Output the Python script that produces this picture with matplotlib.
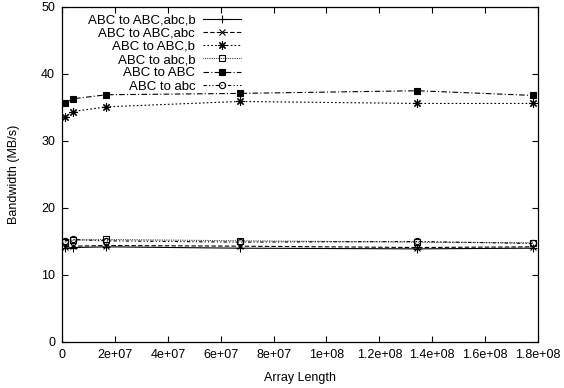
import matplotlib
matplotlib.use("Agg")
import matplotlib.pyplot as plt

plt.rcParams["font.family"] = ["Liberation Sans", "DejaVu Sans"]

# array lengths (x) shared by all series
array_length = [1048576, 4194304, 16777216, 67108864, 134217728, 178000000]

labels = [
    "ABC to ABC,abc,b",
    "ABC to ABC,abc",
    "ABC to ABC,b",
    "ABC to abc,b",
    "ABC to ABC",
    "ABC to abc",
]

# bandwidth in MB/s, one list per series (same order as labels)
abc_all = [14.0, 14.1, 14.2, 14.0, 13.9, 14.0]
abc_abc = [14.2, 14.3, 14.4, 14.3, 14.1, 14.2]
abc_b = [33.6, 34.4, 35.1, 35.9, 35.6, 35.6]
lower_b = [14.9, 15.2, 15.3, 15.1, 14.9, 14.8]
abc_abc_upper = [35.7, 36.3, 36.9, 37.1, 37.5, 36.8]
abc_lower = [15.1, 15.3, 15.1, 14.9, 15.0, 14.7]

series = [abc_all, abc_abc, abc_b, lower_b, abc_abc_upper, abc_lower]

styles = [
    dict(linestyle="-", marker="+", ms=6, mfc="black"),
    dict(linestyle=(0, (4, 2)), marker="x", ms=5, mfc="black"),
    dict(linestyle=(0, (1.5, 2)), marker=(8, 2, 0), ms=6, mfc="black"),
    dict(linestyle=(0, (0.6, 1)), marker="s", ms=5, mfc="none"),
    dict(linestyle=(0, (5, 2, 1, 2)), marker="s", ms=5, mfc="black"),
    dict(linestyle=(0, (3, 2, 1, 2, 1, 2)), marker="o", ms=4.5, mfc="none"),
]

fig = plt.figure(figsize=(5.64, 3.88), dpi=100)
ax = fig.add_axes([0.11, 0.1186, 0.844, 0.8634])

for lab, ys, st in zip(labels, series, styles):
    ax.plot(array_length, ys, color="black", lw=0.8, mec="black", mew=0.8,
            label=lab, **st)

ax.set_xlim(0, 1.8e8)
ax.set_ylim(0, 50)
xt = [0, 2e7, 4e7, 6e7, 8e7, 1e8, 1.2e8, 1.4e8, 1.6e8, 1.8e8]
ax.set_xticks(xt)
ax.set_xticklabels(["0", "2e+07", "4e+07", "6e+07", "8e+07", "1e+08",
                    "1.2e+08", "1.4e+08", "1.6e+08", "1.8e+08"])
ax.set_yticks([0, 10, 20, 30, 40, 50])
ax.tick_params(direction="in", top=True, right=True, labelsize=9, length=4,
               width=0.8, pad=5)
for s in ax.spines.values():
    s.set_linewidth(0.9)

ax.set_xlabel("Array Length", fontsize=9, labelpad=8)
ax.set_ylabel("Bandwidth (MB/s)", fontsize=9, labelpad=15)

ax.legend(loc="upper right", bbox_to_anchor=(0.428, 0.964),
          bbox_transform=fig.transFigure, frameon=False,
          markerfirst=False, fontsize=9.5, handlelength=2.9, labelspacing=0.08,
          borderaxespad=0, borderpad=0, handletextpad=0.6)

fig.savefig("out.png", dpi=100)
